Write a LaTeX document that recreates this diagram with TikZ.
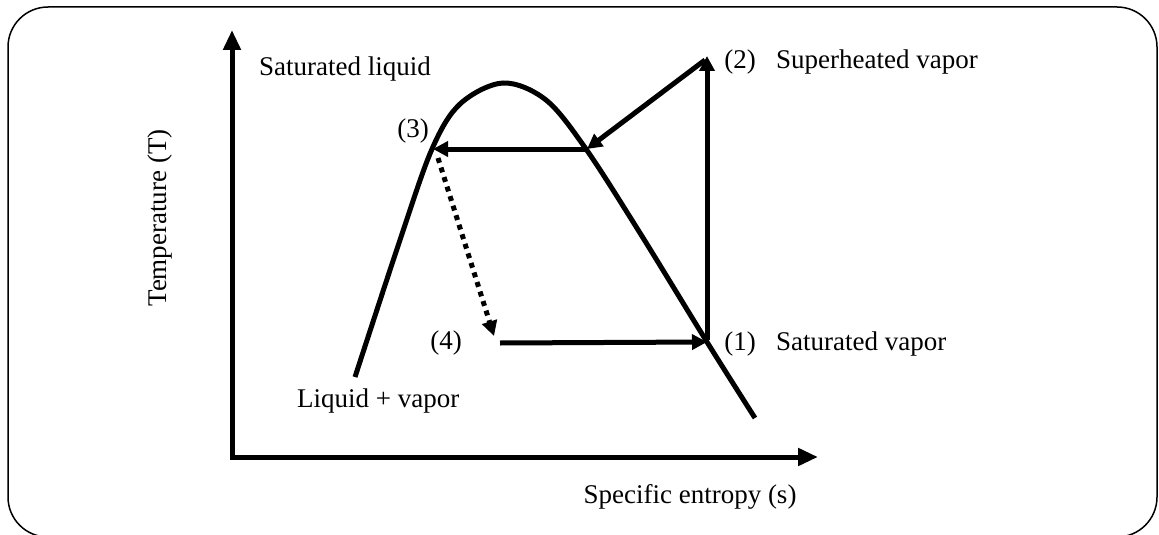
\documentclass[tikz,border=0pt]{standalone}
\usepackage{fontspec}
\setmainfont{Liberation Serif}
\usetikzlibrary{arrows.meta}
\begin{document}
\begin{tikzpicture}[x=1pt,y=-1pt,
  lbl/.style={inner sep=0pt,font=\fontsize{27}{32}\selectfont},
  cyc/.style={line width=5pt,-{Triangle[length=15pt,width=15pt]}},
  axis/.style={line width=5pt,-{Triangle[length=20pt,width=17pt]}}]
\useasboundingbox (0,0) rectangle (1159,535);
\draw[line width=1.5pt,rounded corners=40pt] (8,7) rectangle (1157,537);
% axes
\coordinate (O) at (232,457);
\coordinate (ytop) at (232,30);
\coordinate (xend) at (818,457);
\draw[axis] ([yshift=2.5pt]O) -- (ytop);
\draw[axis] ([xshift=-2.5pt]O) -- (xend);
% saturation dome
\draw[line width=5pt] plot[smooth,tension=0.55] coordinates {(355,377) (400,240) (432,149) (460,104) (503,83) (546,100) (586,149) (640,233) (707,342) (755,418)};
% cycle points
\coordinate (p1) at (707,342);
\coordinate (p2) at (707,56);
\coordinate (p2s) at (705,60);
\coordinate (c) at (587,149);
\coordinate (p3) at (433,149);
\coordinate (p3s) at (438,158);
\coordinate (p4) at (494,336);
\coordinate (p4s) at (500,343);
\draw[cyc] ([yshift=2pt]p1) -- (p2);
\draw[cyc] (p2s) -- (c);
\draw[cyc] (c) -- (p3);
\draw[line width=5pt,dash pattern=on 5pt off 5pt,-{Triangle[length=15pt,width=15pt]}] (p3s) -- (p4);
\draw[cyc] (p4s) -- (p1);
% labels
\node[lbl,rotate=90] (tl) at (160,218) {Temperature (T)};
\node[lbl,anchor=base] (sl) at (690,503) {Specific entropy (s)};
\node[lbl,anchor=base west] (satl) at (259,76) {Saturated liquid};
\node[lbl,anchor=base west] (lv) at (297,407) {Liquid + vapor};
\node[lbl,anchor=base] (n3) at (413,137) {(3)};
\node[lbl,anchor=base] (n4) at (446,349) {(4)};
\node[lbl,anchor=base] (n1) at (740,350) {(1)};
\node[lbl,anchor=base] (n2) at (740,68) {(2)};
\node[lbl,anchor=base west] (sv) at (776,350) {Saturated vapor};
\node[lbl,anchor=base west] (shv) at (776,68) {Superheated vapor};
\end{tikzpicture}
\end{document}
